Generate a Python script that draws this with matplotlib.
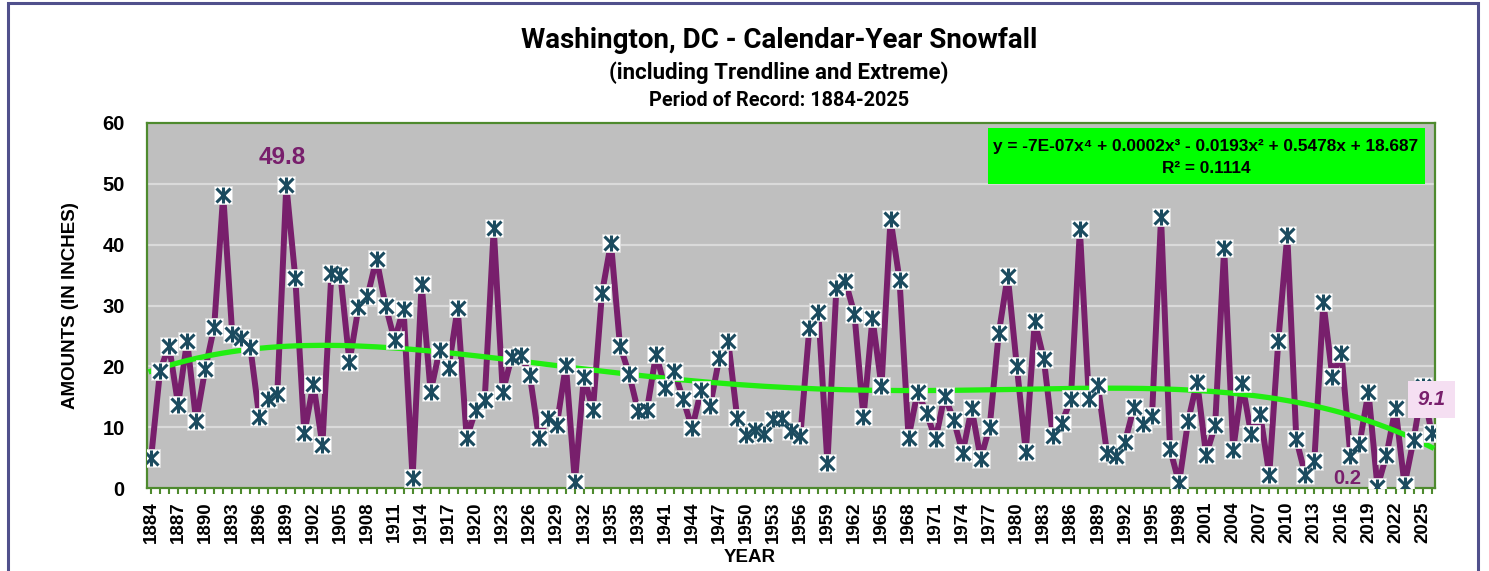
import numpy as np
import matplotlib
matplotlib.use("Agg")
import matplotlib.pyplot as plt
from matplotlib.patches import Rectangle

plt.rcParams["font.family"] = ["Liberation Sans", "DejaVu Sans"]
plt.rcParams["font.weight"] = "bold"

# calendar-year snowfall (inches), 1884 .. 2026 (last point = latest year shown)
years = list(range(1884, 2027))
snow = [4.9, 19.3, 23.4, 13.7, 24.2, 11.0,
        19.5, 26.5, 48.2, 25.3, 24.6, 23.2, 11.7, 14.6, 15.5, 49.8,
        34.5, 9.0, 17.1, 7.1, 35.4, 35.0, 20.7, 29.7, 31.5, 37.7,
        30.0, 24.3, 29.5, 1.6, 33.6, 15.8, 22.7, 19.8, 29.6, 8.2,
        12.8, 14.5, 42.7, 15.8, 21.6, 21.9, 18.6, 8.3, 11.5, 10.4,
        20.2, 1.0, 18.3, 12.8, 32.0, 40.3, 23.4, 18.8, 12.7, 12.9,
        22.0, 16.5, 19.3, 14.6, 9.8, 16.1, 13.5, 21.3, 24.2, 11.5,
        8.7, 9.5, 8.9, 11.3, 11.5, 9.3, 8.6, 26.3, 29.0, 4.1,
        32.9, 34.0, 28.6, 11.6, 27.9, 16.7, 44.2, 34.2, 8.3, 15.8,
        12.3, 8.0, 15.2, 11.2, 5.8, 13.1, 4.8, 10.1, 25.4, 34.9,
        20.1, 6.0, 27.4, 21.2, 8.6, 10.7, 14.6, 42.5, 14.6, 16.9,
        5.8, 5.2, 7.6, 13.3, 10.5, 11.8, 44.5, 6.4, 0.8, 11.0,
        17.5, 5.4, 10.3, 39.4, 6.3, 17.2, 8.8, 12.1, 2.2, 24.1,
        41.6, 8.0, 2.1, 4.5, 30.5, 18.3, 22.2, 5.3, 7.2, 15.8,
        0.2, 5.4, 13.2, 0.5, 7.9, 16.7, 9.1]

eq_text = "y = -7E-07x\u2074 + 0.0002x\u00b3 - 0.0193x\u00b2 + 0.5478x + 18.687"
r2_text = "R\u00b2 = 0.1114"
max_year, max_val = 1899, 49.8
min_year, min_val = 2020, 0.2
last_year, last_val = 2026, 9.1

purple = "#781F6C"
teal = "#1B4B5F"
green_axis = "#4E8A2E"

fig = plt.figure(figsize=(14.89, 5.71), dpi=100)
ax = fig.add_axes([147/1489, 1-488/571, (1435-147)/1489, (488-123)/571])
ax.set_facecolor("#BFBFBF")

# 4th order polynomial trendline (like Excel, x = 1..N)
xi = np.arange(1, len(snow)+1)
coef = np.polyfit(xi, snow, 4)
ax.plot(years, snow, color=purple, lw=4.3, zorder=3, solid_joinstyle="round")
ax.plot(years, np.polyval(coef, xi), color="#22EE11", lw=3.8, zorder=4)

ax.plot(years, snow, "s", ms=12.5, mfc="white", mec="#DDDDDD", mew=0.6, zorder=5)
ax.plot(years, snow, "x", ms=9.5, mec=teal, mew=2.2, zorder=6)
ax.plot(years, snow, "|", ms=11, mec=teal, mew=2.2, zorder=6)

ax.set_ylim(0, 60)
ax.set_xlim(1884-0.45, 2026+0.38)
ax.set_yticks(range(0, 61, 10))
ax.yaxis.grid(True, color="#DADADA", lw=1.6)
ax.set_axisbelow(True)
ax.tick_params(axis="y", length=0, pad=16, labelsize=14.5)
ax.set_xticks(years)
ax.set_xticklabels([str(y) if (y-1884) % 3 == 0 else "" for y in years],
                   rotation=90, fontsize=13.5)
ax.tick_params(axis="x", length=4.5, width=1.5, color=green_axis, pad=5)
for s in ax.spines.values():
    s.set_color(green_axis)
    s.set_linewidth(1.6)

ax.set_ylabel("AMOUNTS (IN INCHES)", fontsize=13.5, fontweight="bold", labelpad=17)
ax.set_xlabel("YEAR", fontsize=13.5, fontweight="bold")
ax.xaxis.set_label_coords((750-147)/1288, -0.168)

# extreme labels
ax.annotate(f"{max_val}", (max_year, max_val), xytext=(-3, 20), textcoords="offset points",
            ha="center", va="center", color=purple, fontsize=17.5, fontweight="bold")
ax.annotate(f"{min_val}", (min_year, min_val), xytext=(-22, 6), textcoords="offset points",
            ha="center", va="center", color=purple, fontsize=14.5, fontweight="bold")
ax.annotate(f"{last_val}", (last_year, last_val), xytext=(0, 24), textcoords="offset points",
            ha="center", va="center", color=purple, fontsize=14.5, fontweight="bold",
            style="italic", zorder=8, annotation_clip=False,
            bbox=dict(boxstyle="square,pad=0.45", fc="#F5DFF2", ec="none"))

# trendline equation box
fig.patches.append(Rectangle((988/1489, 1-184/571), (1425-988)/1489, (184-128)/571,
                             transform=fig.transFigure, fc="#00FF00", ec="none", zorder=7))
fig.text(1206/1489, 1-146/571, eq_text, ha="center", va="center", fontsize=12.4,
         fontweight="bold", zorder=8)
fig.text(1206/1489, 1-168/571, r2_text, ha="center", va="center", fontsize=12.4,
         fontweight="bold", zorder=8)

# titles
narrow = ["Liberation Sans Narrow", "Roboto", "DejaVu Sans"]
fig.text(779/1489, 1-40/571, "Washington, DC - Calendar-Year Snowfall", ha="center",
         va="center", fontsize=20, fontweight="bold", family=narrow)
fig.text(779/1489, 1-73/571, "(including Trendline and Extreme)", ha="center",
         va="center", fontsize=16, fontweight="bold", family=narrow)
fig.text(779/1489, 1-100/571, "Period of Record: 1884-2025", ha="center",
         va="center", fontsize=14.3, fontweight="bold", family=narrow)

# outer frame
fig.patches.append(Rectangle((8/1489, -0.05), (1478-8)/1489, 1.05 - 3/571,
                             transform=fig.transFigure, fc="none", ec="#50508C", lw=2.2))

fig.savefig("out.png", dpi=100)
